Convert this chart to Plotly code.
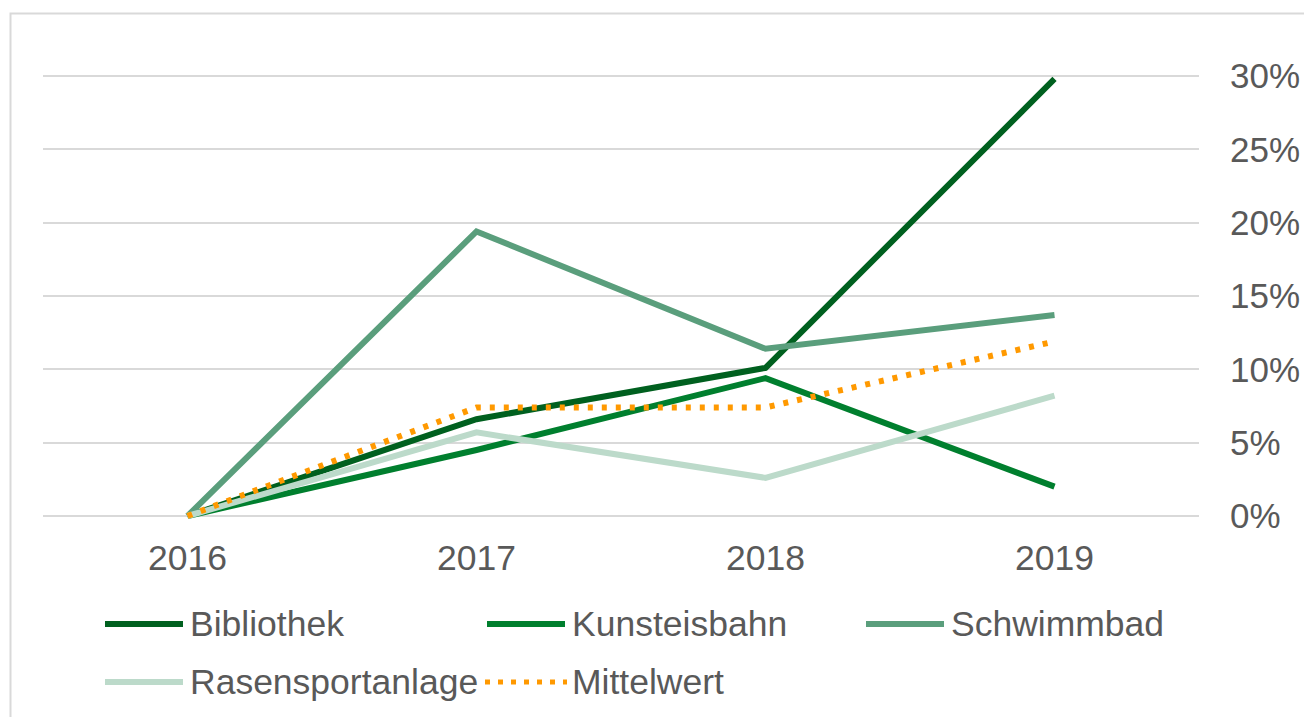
import plotly.graph_objects as go

years = ["2016", "2017", "2018", "2019"]
series_names = ["Bibliothek", "Kunsteisbahn", "Schwimmbad", "Rasensportanlage", "Mittelwert"]
bibliothek = [0.0, 0.066, 0.101, 0.298]
kunsteisbahn = [0.0, 0.045, 0.094, 0.020]
schwimmbad = [0.0, 0.194, 0.114, 0.137]
rasensportanlage = [0.0, 0.057, 0.026, 0.082]
mittelwert = [0.0, 0.074, 0.074, 0.119]
y_tickvals = [0, 0.05, 0.10, 0.15, 0.20, 0.25, 0.30]
y_ticktext = ["0%", "5%", "10%", "15%", "20%", "25%", "30%"]

values = [bibliothek, kunsteisbahn, schwimmbad, rasensportanlage, mittelwert]
colors = ["#00601f", "#007f2e", "#5a9e7c", "#bcdaca", "#ff9900"]
dashes = ["solid", "solid", "solid", "solid", "5px,9px"]

OFF = 8  # default body margin of the html page
PAD = 3  # extra pixels so the 0% and 30% gridlines are drawn
W, H = 1312 - OFF, 717 - OFF
L, R = 43 - OFF, 1199 - OFF
T, B = 76 - OFF - PAD, 516 - OFF + PAD
Y_PER_PX = 0.30 / 440.0
EPS = PAD * Y_PER_PX
FONT = "Arial, 'Liberation Sans', sans-serif"
TXT = "#595959"


def px(x):
    return (x - OFF - L) / (R - L)


def py(y):
    return (B - (y - OFF)) / (B - T)


fig = go.Figure()
for name, vals, col, dash in zip(series_names, values, colors, dashes):
    fig.add_trace(go.Scatter(x=years, y=vals, mode="lines", name=name,
                             line=dict(color=col, width=6, dash=dash),
                             showlegend=False))

shapes = []
annotations = []
# outer frame
shapes.append(dict(type="rect", xref="paper", yref="paper",
                   x0=px(10.5), x1=px(1340), y0=py(760), y1=py(13.5),
                   line=dict(color="#d9d9d9", width=2), layer="below"))
# custom legend
col_x = [105, 487, 866]
row_y = [624, 682]
for i, (name, col, dash) in enumerate(zip(series_names, colors, dashes)):
    r, c = divmod(i, 3)
    x0 = col_x[c]
    if dash == "solid":
        shapes.append(dict(type="line", xref="paper", yref="paper",
                           x0=px(x0), x1=px(x0 + 78), y0=py(row_y[r]), y1=py(row_y[r]),
                           line=dict(color=col, width=6)))
    else:
        shapes.append(dict(type="line", xref="paper", yref="paper",
                           x0=px(x0 - 2), x1=px(x0 + 80), y0=py(row_y[r]), y1=py(row_y[r]),
                           line=dict(color=col, width=5, dash="5px,8px")))
    annotations.append(dict(xref="paper", yref="paper", x=px(x0 + 83), y=py(row_y[r]),
                            text=name, showarrow=False, xanchor="left", yanchor="middle",
                            font=dict(family=FONT, size=35.5, color=TXT)))

fig.update_layout(
    width=W, height=H,
    margin=dict(l=L, r=W - R, t=T, b=H - B, pad=0),
    paper_bgcolor="white", plot_bgcolor="white",
    font=dict(family=FONT, size=35, color=TXT),
    xaxis=dict(type="category", range=[-0.5, 3.5], showgrid=False, zeroline=False,
               showline=False, ticks="", ticklabelstandoff=17 - PAD,
               tickfont=dict(family=FONT, size=35.5, color=TXT)),
    yaxis=dict(side="right", range=[-EPS, 0.30 + EPS], tickvals=y_tickvals, ticktext=y_ticktext,
               showgrid=True, gridcolor="#d9d9d9", gridwidth=2, zeroline=False,
               showline=False, ticks="", ticklabelstandoff=30,
               tickfont=dict(family=FONT, size=35, color=TXT)),
    shapes=shapes, annotations=annotations,
)

fig.write_html("out.html")
